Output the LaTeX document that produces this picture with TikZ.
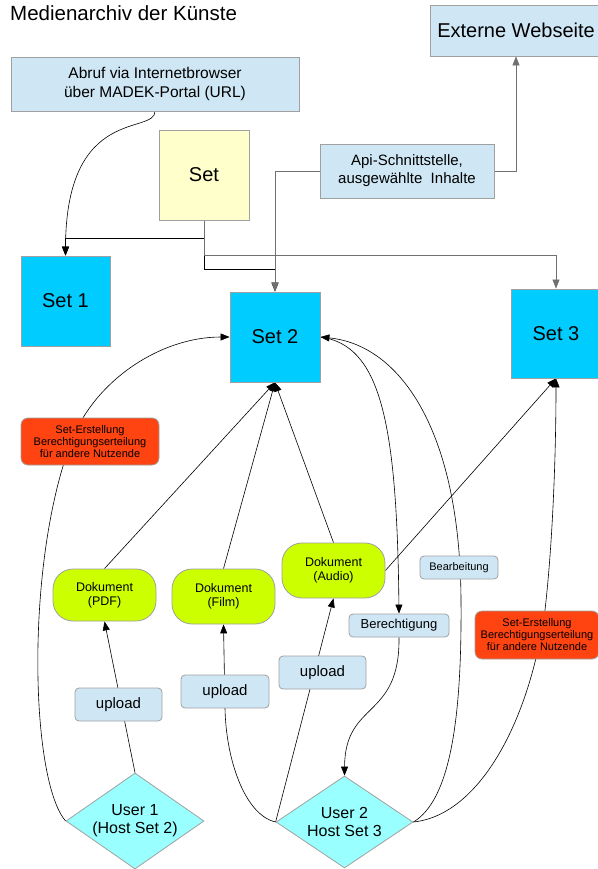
\documentclass[tikz,border=0pt]{standalone}
\usepackage{fontspec}
\setmainfont{Liberation Sans}
\usepackage{tikz}
\usetikzlibrary{arrows.meta,shapes.geometric,backgrounds}

\definecolor{hellblau}{HTML}{CFE7F5}
\definecolor{setblau}{HTML}{00CCFF}
\definecolor{hellgelb}{HTML}{FFFFCC}
\definecolor{signalrot}{HTML}{FF4411}
\definecolor{gelbgruen}{HTML}{CCFF00}
\definecolor{tuerkis}{HTML}{99FFFF}
\definecolor{rahmen}{HTML}{A0A0A0}
\definecolor{linieng}{HTML}{707070}

\tikzstyle{infobox} = [rectangle, fill=hellblau, draw=rahmen, line width=0.8pt, align=center, inner sep=0pt, font=\fontsize{15.5}{19}\selectfont]
\tikzstyle{setbox} = [rectangle, fill=setblau, draw=rahmen, line width=0.8pt, minimum width=90pt, minimum height=90pt, font=\fontsize{20}{24}\selectfont]
\tikzstyle{dokbox} = [rectangle, rounded corners=20pt, fill=gelbgruen, draw=rahmen, line width=0.8pt, minimum width=103pt, minimum height=54pt, align=center, inner sep=0pt, font=\fontsize{12.5}{14}\selectfont]
\tikzstyle{hinweis} = [rectangle, rounded corners=7pt, fill=signalrot, draw=rahmen, line width=0.8pt, minimum height=47pt, align=center, inner sep=0pt, font=\fontsize{11}{12}\selectfont]
\tikzstyle{tagbox} = [rectangle, rounded corners=4pt, fill=hellblau, draw=rahmen, line width=0.8pt, align=center, inner sep=0pt]
\tikzstyle{userbox} = [diamond, aspect=1.44, fill=tuerkis, draw=rahmen, line width=0.8pt, inner sep=0pt, minimum width=138pt, minimum height=96pt, align=center, font=\fontsize{16}{18}\selectfont]
\tikzstyle{pfeil} = [-{Triangle[length=9pt,width=7pt]}, line width=0.6pt]

\begin{document}
\begin{tikzpicture}[x=1pt, y=-1pt]
\useasboundingbox (0,0) rectangle (597,869);

\node (titel) [anchor=base west, inner sep=0pt, font=\fontsize{20.5}{24}\selectfont] at (10,20.5) {Medienarchiv der Künste};

\node (abruf) [infobox, minimum width=288pt, minimum height=54pt] at (155,84) {Abruf via Internetbrowser\\über MADEK-Portal (URL)};
\node (set) [setbox, fill=hellgelb] at (204,175) {Set};
\node (extern) [infobox, minimum width=172pt, minimum height=51pt, font=\fontsize{20}{24}\selectfont] at (516,30.5) {Externe Webseite};
\node (api) [infobox, minimum width=174pt, minimum height=54pt, font=\fontsize{15}{18}\selectfont] at (407,171) {Api-Schnittstelle,\\ausgewählte\ \ Inhalte};

\node (set1) [setbox, minimum width=89pt] at (65.5,301) {Set 1};
\node (set2) [setbox] at (275,337) {Set 2};
\node (set3) [setbox, minimum height=89pt] at (556,333.5) {Set 3};

\node (rot1) [hinweis, minimum width=138pt] at (90,441.5) {Set-Erstellung\\Berechtigungserteilung\\für andere Nutzende};
\node (rot2) [hinweis, minimum width=124pt, minimum height=48pt] at (537,635) {Set-Erstellung\\Berechtigungserteilung\\für andere Nutzende};

\node (pdf) [dokbox, minimum height=52pt] at (104.5,595) {Dokument\\(PDF)};
\node (film) [dokbox, minimum height=55pt] at (223.5,596.5) {Dokument\\(Film)};
\node (audio) [dokbox, minimum height=55pt] at (333.5,570.5) {Dokument\\(Audio)};

\node (bearb) [tagbox, minimum width=78pt, minimum height=23pt, font=\fontsize{11}{13}\selectfont] at (459,567.5) {Bearbeitung};
\node (berech) [tagbox, minimum width=100pt, minimum height=23pt, font=\fontsize{13}{15}\selectfont] at (399,625.5) {Berechtigung};

\node (up1) [tagbox, minimum width=87pt, minimum height=33pt, font=\fontsize{15}{18}\selectfont] at (118.5,704.5) {upload};
\node (up2) [tagbox, minimum width=88pt, minimum height=33pt, font=\fontsize{15}{18}\selectfont] at (225,691.5) {upload};
\node (up3) [tagbox, minimum width=87pt, minimum height=33pt, font=\fontsize{15}{18}\selectfont] at (322.5,672.5) {upload};

\node (user1) [userbox] at (135,821) {User 1\\(Host Set 2)};
\node (user2) [userbox, minimum width=137pt, minimum height=92pt] at (344.5,822) {User 2\\Host Set 3};

\begin{scope}[on background layer]
% oben: Abruf, Set, Api
\draw[pfeil] (abruf.south) .. controls (155,135) and (66,105) .. (set1.north);
\draw[pfeil] (set.south) -- ++(0,18) -| (set1.north);
\draw[pfeil] (set.south) -- ++(0,49) -| (set2.north);
\draw[pfeil, draw=linieng] (set.south) -- ++(0,35) -| (set3.north);
\draw[pfeil, draw=linieng] (api.west) -| (set2.north);
\draw[pfeil, draw=linieng] (api.east) -| (extern.south);

% User 1
\draw[pfeil] (user1.west) .. controls (30,780) and (25,560) .. (72,440) .. controls (95,381) and (160,337) .. (set2.west);
\draw[pfeil] (user1.north) -- (pdf.south);

% Dokumente
\draw[pfeil] (pdf.north) -- (set2.south);
\draw[pfeil] (film.north) -- (set2.south);
\draw[pfeil] (audio.north) -- (set2.south);
\draw[pfeil] (audio.east) -- (set3.south);

% User 2
\draw[pfeil] (user2.west) .. controls (245,815) and (226,760) .. (up2.south) -- (film.south);
\draw[pfeil] (user2.west) -- (audio.south);
\draw[pfeil] (user2.east) .. controls (480,815) and (530,720) .. (545,610) .. controls (553,540) and (556,450) .. (set3.south);
\draw[pfeil] (user2.east) .. controls (450,800) and (462,720) .. (461,600) .. controls (460,430) and (400,345) .. (set2.east);
\draw[pfeil] (set2.east) .. controls (380,345) and (397,420) .. (berech.north);
\draw[pfeil] (berech.south) .. controls (400,720) and (345,700) .. (user2.north);
\end{scope}
\end{tikzpicture}
\end{document}
